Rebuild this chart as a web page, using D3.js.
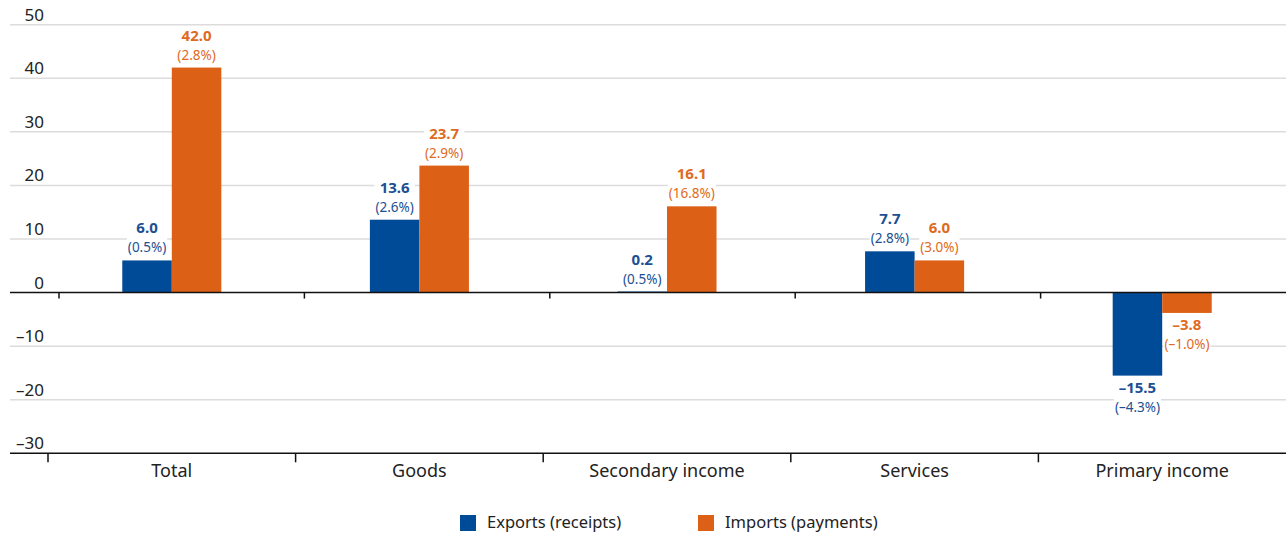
<!DOCTYPE html>
<html lang="en">
  <head>
    <meta charset="UTF-8" />
    <title>Exports and imports change</title>
    <script src="https://d3js.org/d3.v7.min.js"></script>
    <style>
      body {
        margin: 0;
        background: #fff;
      }
      svg {
        display: block;
        font-family: "Noto Sans", sans-serif;
      }
    </style>
  </head>
  <body>
    <script>
      // data
      const categories = ["Total", "Goods", "Secondary income", "Services", "Primary income"];
      const exportsVals = [6.0, 13.6, 0.2, 7.7, -15.5];
      const importsVals = [42.0, 23.7, 16.1, 6.0, -3.8];
      const exportsPct = ["0.5%", "2.6%", "0.5%", "2.8%", "–4.3%"];
      const importsPct = ["2.8%", "2.9%", "16.8%", "3.0%", "–1.0%"];
      const yTicks = [50, 40, 30, 20, 10, 0, -10, -20, -30];
      const seriesNames = ["Exports (receipts)", "Imports (payments)"];
      const colors = ["#004b98", "#dc6016"];
      const textColors = ["#1c4f93", "#df6a22"];

      const W = 1286, H = 536;
      const svg = d3.select("body").append("svg").attr("width", W).attr("height", H);

      const y = d3.scaleLinear().domain([-30, 50]).range([453.3, 24.7]);
      const x = d3.scaleBand().domain(categories).range([48, 1286]);
      const xZero = d3.scaleBand().domain(categories).range([59, 1286]);
      const barW = x.bandwidth() * 0.2;

      const fmt = v => (v < 0 ? "–" + Math.abs(v).toFixed(1) : v.toFixed(1));

      // gridlines
      svg.append("g")
        .selectAll("line")
        .data(yTicks.filter(d => d !== 0 && d !== -30))
        .join("line")
        .attr("x1", 10).attr("x2", W)
        .attr("y1", d => y(d)).attr("y2", d => y(d))
        .attr("stroke", "#dcdcdc").attr("stroke-width", 1.5);

      // y labels
      svg.append("g")
        .selectAll("text")
        .data(yTicks)
        .join("text")
        .attr("x", 44).attr("y", d => y(d) - 4)
        .attr("text-anchor", "end")
        .attr("font-size", 17)
        .attr("fill", "#222")
        .text(d => (d < 0 ? "–" + Math.abs(d) : d));

      // bars
      const rows = categories.map((c, i) => ({
        c,
        vals: [exportsVals[i], importsVals[i]],
        pcts: [exportsPct[i], importsPct[i]]
      }));

      const bars = [];
      rows.forEach(r => {
        r.vals.forEach((v, k) => bars.push({ c: r.c, v, k, pct: r.pcts[k] }));
      });

      const barX = d => x(d.c) + x.bandwidth() / 2 - barW + d.k * barW;

      svg.append("g")
        .selectAll("rect")
        .data(bars)
        .join("rect")
        .attr("x", barX)
        .attr("width", barW)
        .attr("y", d => y(Math.max(0, d.v)))
        .attr("height", d => Math.max(1, Math.abs(y(d.v) - y(0))))
        .attr("fill", d => colors[d.k]);

      // zero line and its ticks
      svg.append("line")
        .attr("x1", 10).attr("x2", W)
        .attr("y1", y(0)).attr("y2", y(0))
        .attr("stroke", "#111").attr("stroke-width", 1.5);
      svg.append("g")
        .selectAll("line")
        .data(categories)
        .join("line")
        .attr("x1", d => xZero(d)).attr("x2", d => xZero(d))
        .attr("y1", y(0)).attr("y2", y(0) + 6)
        .attr("stroke", "#111").attr("stroke-width", 1.5);

      // bottom axis
      const base = y(-30);
      svg.append("line")
        .attr("x1", 10).attr("x2", W)
        .attr("y1", base).attr("y2", base)
        .attr("stroke", "#111").attr("stroke-width", 1.5);
      svg.append("g")
        .selectAll("line")
        .data(categories)
        .join("line")
        .attr("x1", d => x(d)).attr("x2", d => x(d))
        .attr("y1", base).attr("y2", base + 9)
        .attr("stroke", "#111").attr("stroke-width", 1.5);
      svg.append("g")
        .selectAll("text")
        .data(categories)
        .join("text")
        .attr("x", d => x(d) + x.bandwidth() / 2)
        .attr("y", base + 24)
        .attr("text-anchor", "middle")
        .attr("font-size", 18)
        .attr("fill", "#222")
        .text(d => d);

      // value labels with white backing
      const lab = svg.append("g")
        .selectAll("g")
        .data(bars)
        .join("g")
        .attr("transform", d => `translate(${barX(d) + barW / 2},${y(d.v)})`);

      const bg = lab.append("rect").attr("fill", "#fff");
      lab.append("text")
        .attr("y", d => (d.v >= 0 ? -27 : 17))
        .attr("text-anchor", "middle")
        .attr("font-size", 15)
        .attr("font-weight", "bold")
        .attr("fill", d => textColors[d.k])
        .text(d => fmt(d.v));
      lab.append("text")
        .attr("y", d => (d.v >= 0 ? -8 : 36))
        .attr("text-anchor", "middle")
        .attr("font-size", 13.5)
        .attr("fill", d => textColors[d.k])
        .text(d => "(" + d.pct + ")");

      bg.each(function () {
        const g = this.parentNode;
        const texts = d3.select(g).selectAll("text").nodes();
        let x0 = Infinity, x1 = -Infinity, y0 = Infinity, y1 = -Infinity;
        texts.forEach(t => {
          const b = t.getBBox();
          x0 = Math.min(x0, b.x); x1 = Math.max(x1, b.x + b.width);
          y0 = Math.min(y0, b.y); y1 = Math.max(y1, b.y + b.height);
        });
        d3.select(this)
          .attr("x", x0 - 1).attr("y", y0 + 2)
          .attr("width", x1 - x0 + 2).attr("height", y1 - y0 - 4);
      });

      // legend
      const legendX = [460, 698];
      const leg = svg.append("g")
        .selectAll("g")
        .data(seriesNames)
        .join("g")
        .attr("transform", (d, i) => `translate(${legendX[i]},515)`);
      leg.append("rect")
        .attr("width", 16).attr("height", 16)
        .attr("fill", (d, i) => colors[i]);
      leg.append("text")
        .attr("x", 27).attr("y", 13)
        .attr("font-size", 16.5)
        .attr("fill", "#222")
        .text(d => d);
    </script>
  </body>
</html>
